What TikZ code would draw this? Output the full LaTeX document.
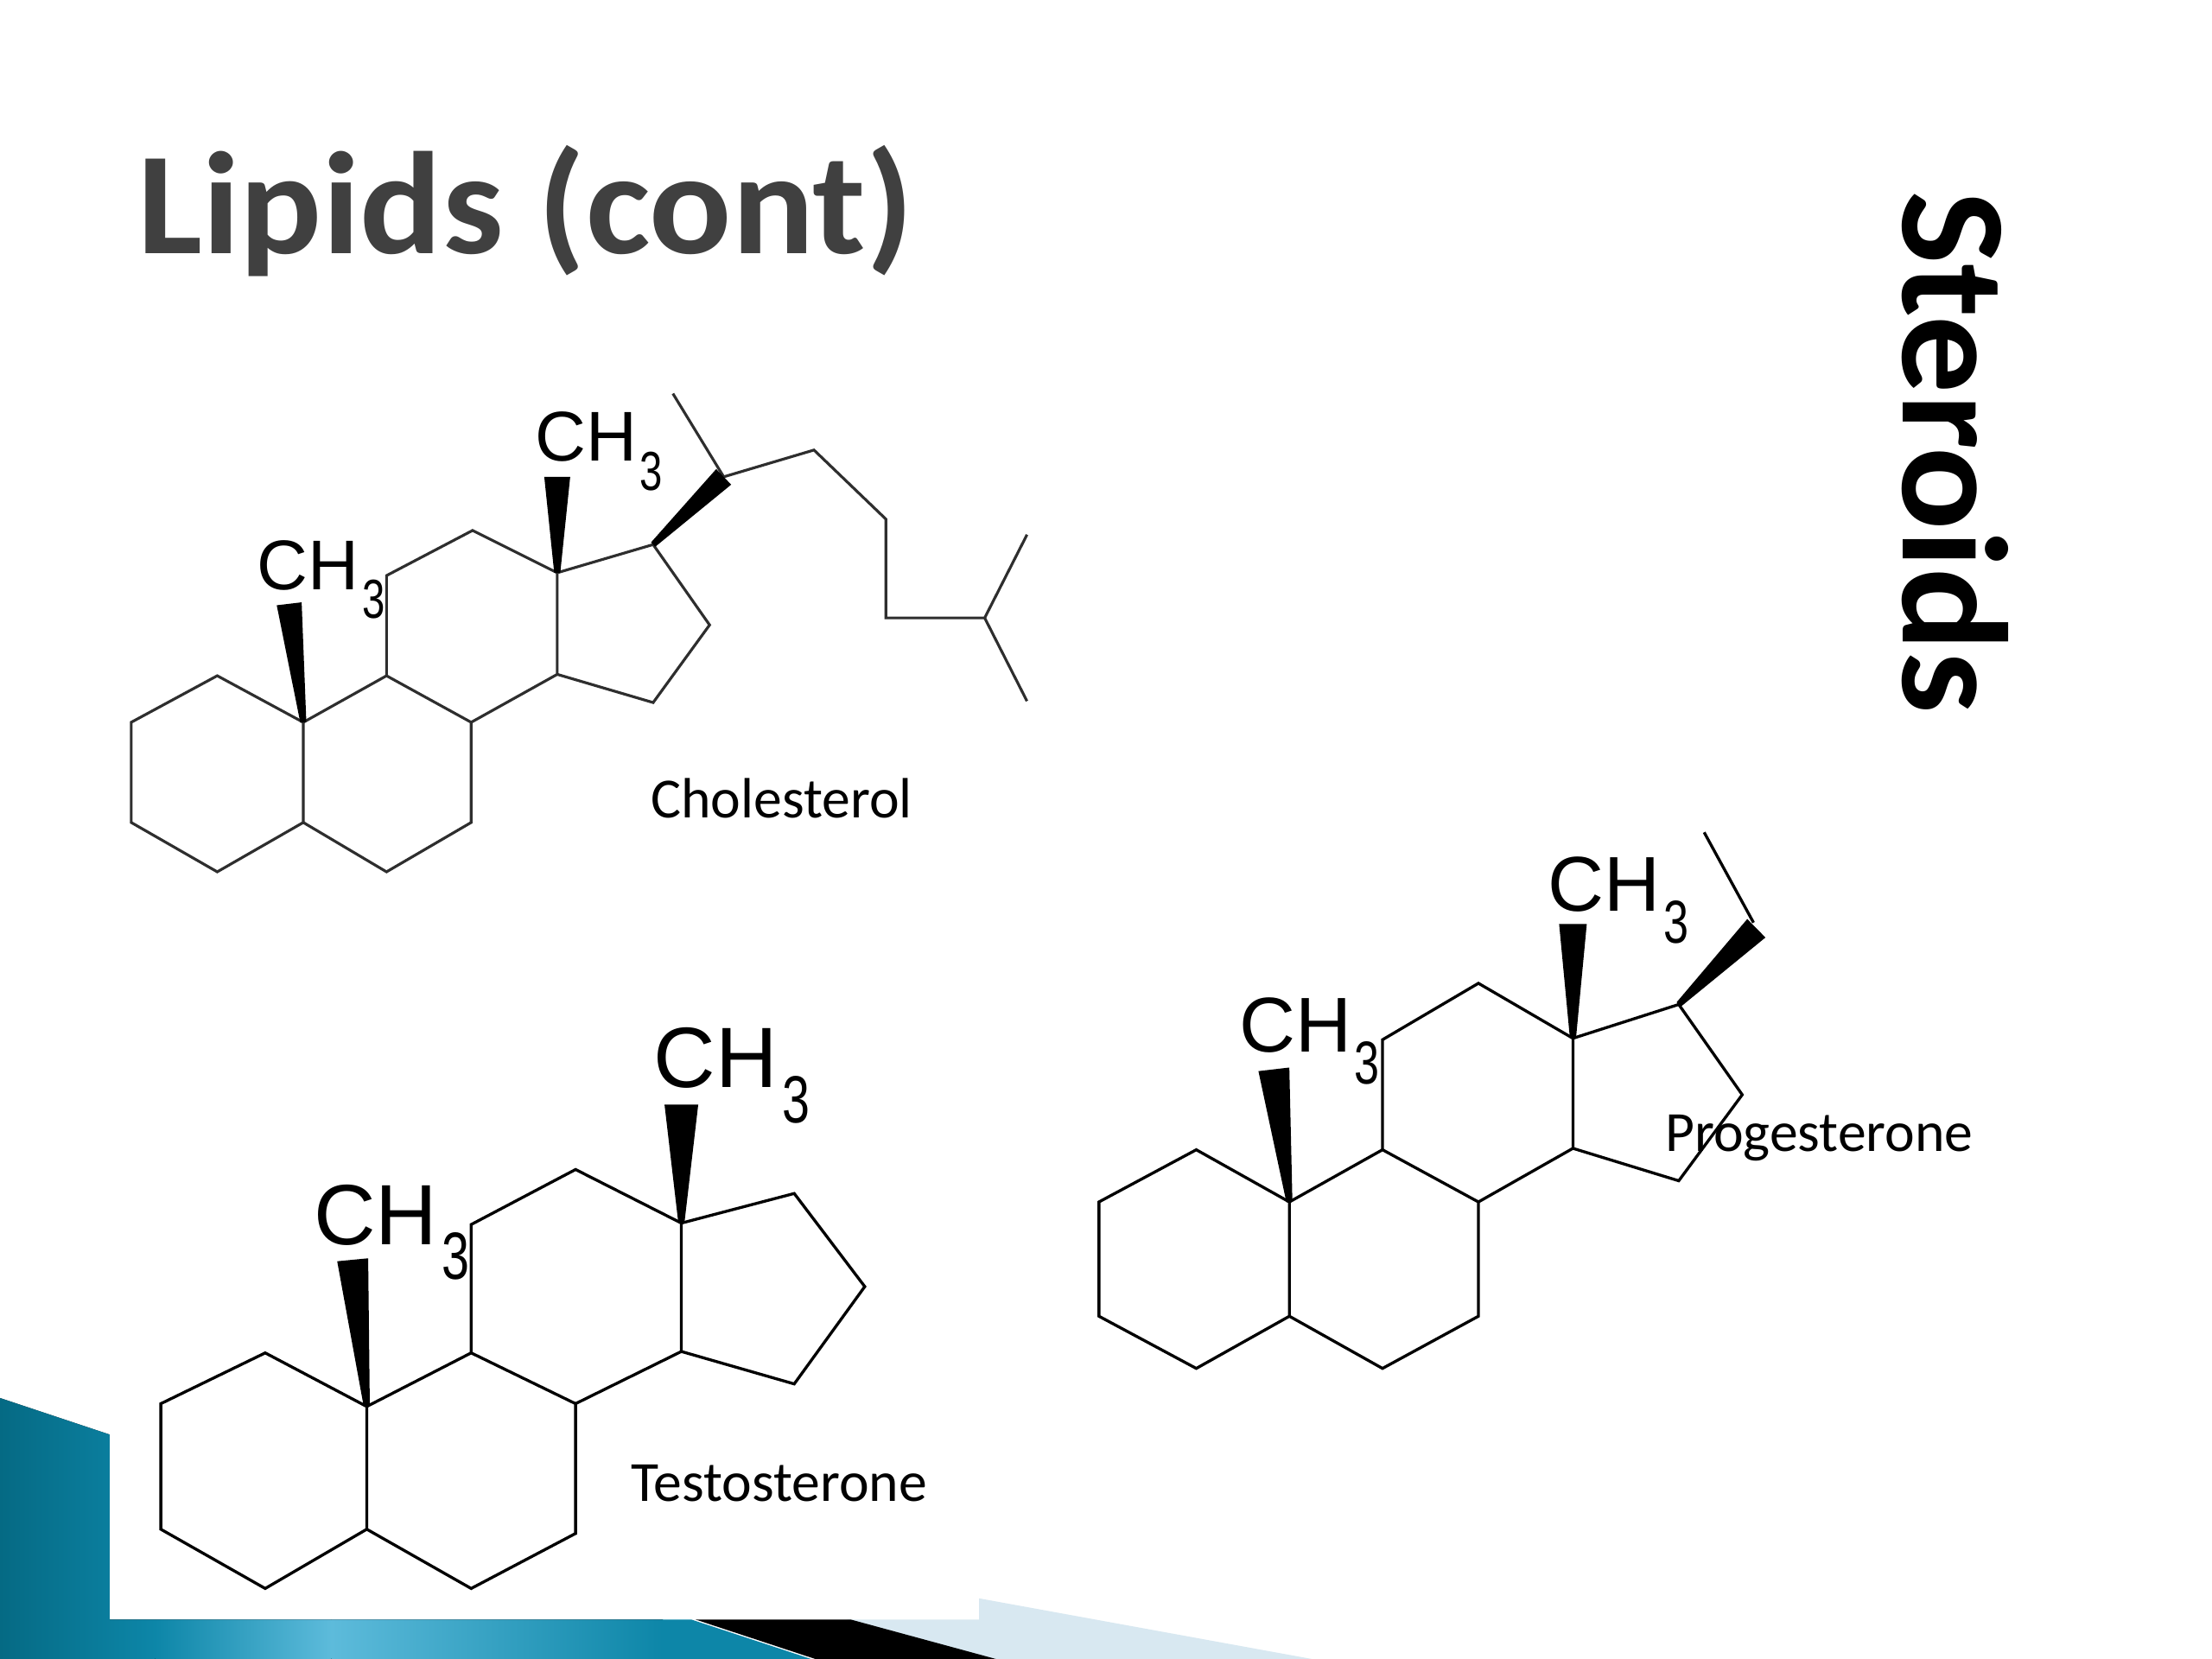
\documentclass[tikz,border=0pt]{standalone}
\usepackage{fontspec}
\usetikzlibrary{calc}
\setmainfont{Carlito}
\newfontfamily\arial{Liberation Sans}
\definecolor{titlegrey}{HTML}{404040}
\definecolor{tealdark}{HTML}{056A84}
\definecolor{tealmid}{HTML}{0D86A8}
\definecolor{teallight}{HTML}{5DBBDB}
\definecolor{paleblue}{HTML}{D8E8F1}
\tikzset{
  bond/.style={draw=black,line width=0.95pt,line join=miter},
  softbond/.style={draw=black!82,line width=0.9pt,line join=miter},
  wedgefill/.style={fill=black,draw=none},
  chem/.style={inner sep=0pt,anchor=base west,font=\arial,text=black},
  caption/.style={inner sep=0pt,anchor=base west,text=black,font=\fontsize{18.7}{20}\selectfont},
}
% from, to, half width at the far end (the near end keeps a small width)
\newcommand{\wedgebond}[3]{\fill[wedgefill] ($(#1)!0.035cm!90:(#2)$) -- ($(#2)!#3!-90:(#1)$) -- ($(#2)!#3!90:(#1)$) -- ($(#1)!0.035cm!-90:(#2)$) -- cycle;}
% methyl label: name, position, CH size in pt, gap before the subscript
\newcommand{\methyl}[4]{\node[chem] (#1) at (#2) {\fontsize{#3}{#3}\selectfont CH\hspace{#4}\raisebox{-0.41em}{\scalebox{0.58}[0.78]{3}}};}
\begin{document}
\begin{tikzpicture}[x=0.016326cm,y=-0.016326cm]
\useasboundingbox (0,0) rectangle (1568,1176);
\fill[white] (0,0) rectangle (1568,1176);
% ---- slide decoration
\fill[paleblue] (694,1133) -- (930,1176) -- (700,1176) -- (600,1148) -- (694,1148) -- cycle;
\begin{scope}
  \clip (0,991) -- (78,1017) -- (78,1148) -- (490,1148) -- (575,1176) -- (0,1176) -- cycle;
  \fill[left color=tealdark,right color=tealmid] (0,985) rectangle (110,1176);
  \fill[left color=tealmid,right color=teallight] (110,985) rectangle (235,1176);
  \fill[left color=teallight,right color=tealmid] (235,985) rectangle (470,1176);
  \fill[tealmid] (470,985) rectangle (580,1176);
\end{scope}
\fill[black] (493,1148) -- (603,1148) -- (706,1176) -- (578,1176) -- cycle;
\fill[white] (78,1017) rectangle (694,1148);
% ---- titles
\node[inner sep=0pt,anchor=base west,text=titlegrey,font=\fontsize{49.5}{50}\selectfont\bfseries] (title) at (97,180) {\scalebox{1.02}[0.97]{Lipids (cont)}};
\node[inner sep=0pt,anchor=base west,rotate=-90,text=black,font=\fontsize{49.5}{50}\selectfont\bfseries] (steroids) at (1349,135) {\scalebox{1.03}[1]{Steroids}};
% ---- cholesterol
\foreach \n/\p in {a1/{93,512},a2/{154,479},a3/{215,512},a4/{215,583},a5/{154,618},a6/{93,583},
  b2/{274,479},b3/{334,512},b4/{334,583},b5/{274,618},
  c2/{274,408},c3/{335,376},c4/{395,406},c5/{395,478},
  d2/{463,386},d3/{503,443},d4/{463,498},
  e1/{513,338},e2/{477,279},e3/{577,319},e4/{628,368},e5/{628,438},e6/{698,438},e7/{728,379},e8/{728,497},
  w1/{205,428},w2/{395,338}}
  \coordinate (\n) at (\p);
\draw[softbond] (a3)--(a2)--(a1)--(a6)--(a5)--(a4)--cycle;
\draw[softbond] (a3)--(b2)--(b3)--(b4)--(b5)--(a4);
\draw[softbond] (b2)--(c2)--(c3)--(c4)--(c5)--(b3);
\draw[softbond] (c4)--(d2)--(d3)--(d4)--(c5);
\draw[softbond] (e2)--(e1)--(e3)--(e4)--(e5)--(e6)--(e7);
\draw[softbond] (e6)--(e8);
\wedgebond{a3}{w1}{0.145cm}
\wedgebond{c4}{w2}{0.15cm}
\wedgebond{d2}{e1}{0.125cm}
\methyl{m1}{182,418}{23.2}{1pt}
\methyl{m2}{379,327}{23.2}{1pt}
\node[caption] (l1) at (461,580) {Cholesterol};
% ---- progesterone
\foreach \n/\p in {pa1/{779,852},pa2/{848,815},pa3/{914,852},pa4/{914,933},pa5/{848,970},pa6/{779,933},
  pb2/{980,815},pb3/{1048,852},pb4/{1048,933},pb5/{980,970},
  pc2/{980,737},pc3/{1048,697},pc4/{1115,736},pc5/{1115,814},
  pd2/{1190,712},pd3/{1235,776},pd4/{1190,837},
  pe1/{1245,658},pe2/{1208,590},pe3/{1243,654},
  pw1/{903,758},pw2/{1115,655}}
  \coordinate (\n) at (\p);
\draw[bond] (pa3)--(pa2)--(pa1)--(pa6)--(pa5)--(pa4)--cycle;
\draw[bond] (pa3)--(pb2)--(pb3)--(pb4)--(pb5)--(pa4);
\draw[bond] (pb2)--(pc2)--(pc3)--(pc4)--(pc5)--(pb3);
\draw[bond] (pc4)--(pd2)--(pd3)--(pd4)--(pc5);
\draw[bond] (pe2)--(pe3);
\wedgebond{pa3}{pw1}{0.18cm}
\wedgebond{pc4}{pw2}{0.16cm}
\wedgebond{pd2}{pe1}{0.15cm}
\methyl{m3}{878,746}{25.6}{1pt}
\methyl{m4}{1097,646}{25.6}{1pt}
\node[caption] (l2) at (1180,816) {Progesterone};
% ---- testosterone
\foreach \n/\p in {ta1/{114,995},ta2/{188,959},ta3/{260,997},ta4/{260,1084},ta5/{188,1126},ta6/{114,1084},
  tb2/{334,959},tb3/{408,995},tb4/{408,1087},tb5/{334,1126},
  tc2/{334,868},tc3/{408,829},tc4/{483,867},tc5/{483,958},
  td2/{563,846},td3/{613,912},td4/{563,981},
  tw1/{250,893},tw2/{483,783}}
  \coordinate (\n) at (\p);
\draw[bond] (ta3)--(ta2)--(ta1)--(ta6)--(ta5)--(ta4)--cycle;
\draw[bond] (ta3)--(tb2)--(tb3)--(tb4)--(tb5)--(ta4);
\draw[bond] (tb2)--(tc2)--(tc3)--(tc4)--(tc5)--(tb3);
\draw[bond] (tc4)--(td2)--(td3)--(td4)--(tc5);
\wedgebond{ta3}{tw1}{0.18cm}
\wedgebond{tc4}{tw2}{0.195cm}
\methyl{m5}{222,882}{28.2}{1.5pt}
\methyl{m6}{463,771}{28.2}{1.5pt}
\node[caption] (l3) at (447,1064) {Testosterone};
\end{tikzpicture}
\end{document}
